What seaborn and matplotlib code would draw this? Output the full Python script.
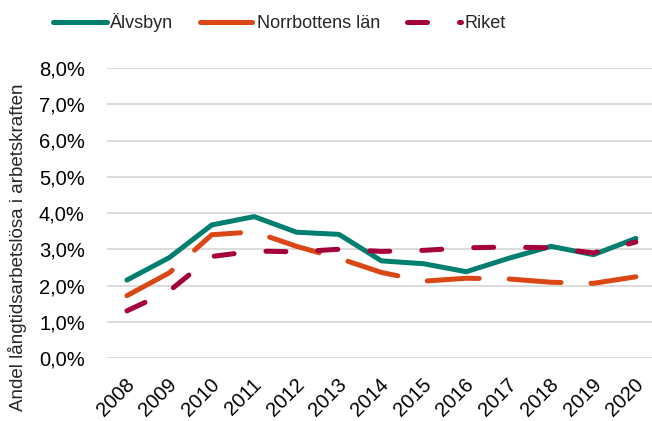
import matplotlib
matplotlib.use("Agg")
import matplotlib.pyplot as plt
import matplotlib.transforms as mtransforms
import seaborn as sns
import pandas as pd

years = [2008, 2009, 2010, 2011, 2012, 2013, 2014, 2015, 2016, 2017, 2018, 2019, 2020]
alvsbyn = [2.15, 2.77, 3.67, 3.90, 3.47, 3.41, 2.68, 2.60, 2.38, 2.75, 3.08, 2.85, 3.30]
norrbotten = [1.72, 2.35, 3.40, 3.48, 3.08, 2.75, 2.36, 2.12, 2.20, 2.18, 2.09, 2.06, 2.24]
riket = [1.30, 1.85, 2.80, 2.95, 2.93, 3.00, 2.94, 2.97, 3.04, 3.06, 3.04, 2.90, 3.20]
series_names = ["Älvsbyn", "Norrbottens län", "Riket"]
ytick_vals = [0, 1, 2, 3, 4, 5, 6, 7, 8]
ytick_labels = ["0,0%", "1,0%", "2,0%", "3,0%", "4,0%", "5,0%", "6,0%", "7,0%", "8,0%"]
ylabel = "Andel långtidsarbetslösa i arbetskraften"

colors = {"Älvsbyn": "#007E6E", "Norrbottens län": "#DA4614", "Riket": "#A6003C"}
dashes = {"Älvsbyn": "", "Norrbottens län": (10.4, 6.0), "Riket": (4.0, 6.4)}

df = pd.DataFrame({
    "year": years * 3,
    "value": alvsbyn + norrbotten + riket,
    "series": [series_names[0]] * len(years) + [series_names[1]] * len(years) + [series_names[2]] * len(years),
})

sns.set_theme(style="white")
plt.rcParams["font.family"] = ["Liberation Sans", "DejaVu Sans"]

fig = plt.figure(figsize=(6.52, 4.21), dpi=100)
ax = fig.add_axes([107 / 652, 1 - 358 / 421, (652 - 107) / 652, (358 - 68) / 421])

sns.lineplot(data=df, x="year", y="value", hue="series", style="series",
             palette=colors, dashes=dashes, hue_order=series_names, style_order=series_names,
             linewidth=3.6, ax=ax, legend=True,
             solid_capstyle="round", dash_capstyle="round")

ax.set_ylim(0, 8)
ax.set_xlim(2008 - 0.47, 2008 + 12.38)
ax.set_yticks(ytick_vals)
ax.set_yticklabels(ytick_labels, fontsize=14.5, color="#000000")
ax.set_xticks(years)
ax.set_xticklabels([str(y) for y in years], fontsize=14.5, rotation=45, ha="right",
                   rotation_mode="anchor", color="#000000")
ax.tick_params(axis="y", length=0, pad=16)
ax.tick_params(axis="x", length=0, pad=12)
offset = mtransforms.ScaledTranslation(-2 / 100, 0, fig.dpi_scale_trans)
for lab in ax.get_xticklabels():
    lab.set_transform(lab.get_transform() + offset)
ax.grid(axis="y", color="#D9D9D9", linewidth=1.3)
ax.set_axisbelow(True)
for s in ax.spines.values():
    s.set_visible(False)
ax.set_xlabel("")
ax.set_ylabel("")

handles, labels = ax.get_legend_handles_labels()
ax.get_legend().remove()
fig.legend(handles, labels, loc="center left", bbox_to_anchor=(53 / 652, 1 - 23 / 421),
           ncol=3, frameon=False, fontsize=13, handlelength=3.0, handletextpad=0.15,
           columnspacing=1.5, borderpad=0, borderaxespad=0)

fig.text(18 / 652, 1 - 247 / 421, ylabel, rotation=90, ha="center", va="center", fontsize=13.5)

fig.savefig("out.png", dpi=100)
